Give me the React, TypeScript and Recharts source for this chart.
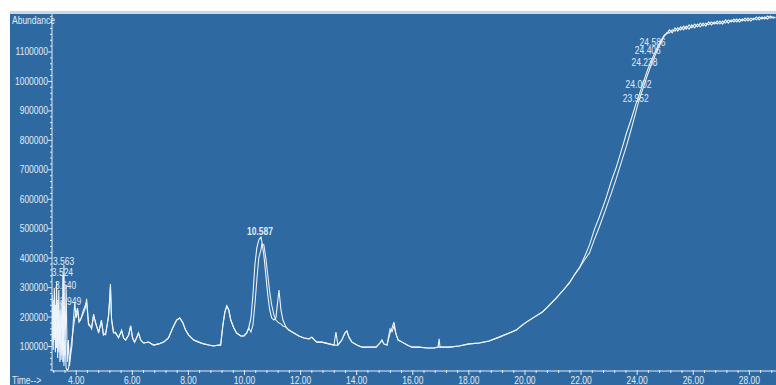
import React from 'react';
import { ComposedChart, Line, XAxis, YAxis, ReferenceDot } from 'recharts';

// retention time (min) and abundance of the two overlaid runs
const retentionTime = [
  3.10, 3.14, 3.18, 3.22, 3.26, 3.30, 3.34, 3.38, 3.42, 3.46, 3.50, 3.524, 3.545, 3.563, 3.60, 3.64, 3.68, 3.72, 3.76, 3.80, 3.85, 3.90, 3.949, 4.00, 4.05, 4.10,
  4.15, 4.26, 4.33, 4.37, 4.44, 4.55, 4.62, 4.69, 4.80, 4.90,
  4.97, 5.05, 5.15, 5.19, 5.22, 5.26, 5.33, 5.40, 5.51, 5.62,
  5.69, 5.76, 5.87, 5.94, 6.01, 6.08, 6.15, 6.22, 6.30, 6.40,
  6.58, 6.76, 6.94, 7.12, 7.29, 7.44, 7.58, 7.69, 7.79, 7.90,
  8.01, 8.19, 8.37, 8.55, 8.73, 8.90, 9.08, 9.15, 9.23, 9.30,
  9.37, 9.44, 9.51, 9.62, 9.72, 9.87, 9.98, 10.08, 10.15,
  10.23, 10.30, 10.37, 10.44, 10.51, 10.587, 10.62, 10.69, 10.76, 10.83, 10.90, 10.97, 11.05, 11.12, 11.19, 11.23, 11.30, 11.37,
  11.48, 11.58, 11.76, 11.94, 12.12, 12.30, 12.40, 12.50, 12.58, 12.76,
  13.01, 13.19, 13.26, 13.33, 13.47, 13.58, 13.65, 13.72, 13.83, 14.01,
  14.19, 14.44, 14.69, 14.83, 14.90, 14.97, 15.08, 15.19, 15.26, 15.33,
  15.40, 15.48, 15.62, 15.80, 15.97, 16.22, 16.51, 16.76, 16.90, 16.94,
  16.97, 17.30, 17.65, 18.01, 18.37, 18.72, 19.08, 19.44, 19.69, 19.87,
  20.05, 20.33, 20.62, 20.87, 21.12, 21.37, 21.58, 21.76, 21.94,
  22.12, 22.30, 22.47, 22.65, 22.87, 23.08, 23.26, 23.44, 23.62, 23.80, 23.952, 24.01, 24.12, 24.238, 24.37, 24.51, 24.66, 24.80, 24.97,
  25.05, 25.15, 25.25, 25.35, 25.45, 25.55, 25.65, 25.75, 25.85, 25.95,
  26.05, 26.15, 26.25, 26.35, 26.45, 26.55, 26.65, 26.75, 26.85, 26.95,
  27.05, 27.15, 27.25, 27.35, 27.45, 27.55, 27.65, 27.75, 27.85, 27.95,
  28.05, 28.15, 28.25, 28.35, 28.45, 28.55, 28.65, 28.75, 28.85, 28.93,
];

const runA = [
  156000, 275000, 88000, 299000, 81000, 319000, 61000, 292000, 48000, 258000, 71000, 343000, 88000, 377000, 71000, 309000, 48000, 122000, 34000, 71000, 105000, 190000, 248000, 197000, 224000, 183000,
  190000, 224000, 241000, 251000, 173000, 166000, 204000, 183000, 146000, 190000,
  139000, 146000, 197000, 258000, 312000, 190000, 146000, 149000, 129000, 156000,
  129000, 122000, 139000, 170000, 129000, 115000, 129000, 146000, 122000, 112000,
  115000, 105000, 109000, 115000, 129000, 163000, 190000, 197000, 183000, 156000,
  139000, 122000, 115000, 109000, 105000, 102000, 105000, 105000, 173000, 217000,
  238000, 224000, 190000, 163000, 146000, 136000, 136000, 146000, 163000,
  197000, 275000, 377000, 435000, 462000, 472000, 455000, 411000, 343000, 275000, 224000, 197000, 190000, 197000, 258000, 292000, 224000, 190000,
  166000, 156000, 146000, 136000, 129000, 126000, 132000, 122000, 115000, 115000,
  109000, 105000, 149000, 105000, 122000, 146000, 153000, 132000, 115000, 105000,
  98000, 98000, 98000, 112000, 122000, 109000, 105000, 146000, 163000, 183000,
  143000, 122000, 115000, 105000, 98000, 98000, 95000, 95000, 98000, 126000,
  98000, 98000, 102000, 109000, 112000, 119000, 132000, 146000, 156000, 170000,
  183000, 200000, 217000, 241000, 265000, 292000, 316000, 343000, 367000,
  404000, 445000, 496000, 540000, 598000, 662000, 710000, 767000, 825000, 876000, 923000, 937000, 968000, 1002000, 1039000, 1073000, 1103000, 1131000, 1158000,
  1161000, 1175000, 1165000, 1182000, 1171000, 1185000, 1175000, 1188000, 1178000, 1192000,
  1182000, 1195000, 1185000, 1198000, 1188000, 1202000, 1192000, 1202000, 1195000, 1205000,
  1195000, 1209000, 1198000, 1209000, 1202000, 1212000, 1202000, 1212000, 1205000, 1215000,
  1205000, 1215000, 1209000, 1219000, 1212000, 1219000, 1212000, 1222000, 1215000, 1219000,
];

const runB = [
  224000, 105000, 258000, 122000, 241000, 95000, 258000, 81000, 224000, 54000, 156000, 48000, 207000, 34000, 122000, 27000, 20000, 24000, 48000, 88000, 129000, 163000, 197000, 217000, 231000, 190000,
  190000, 215000, 232000, 262000, 180000, 160000, 210000, 178000, 150000, 185000,
  142000, 140000, 205000, 250000, 300000, 195000, 150000, 145000, 132000, 152000,
  129000, 122000, 139000, 170000, 129000, 115000, 129000, 146000, 122000, 112000,
  115000, 105000, 109000, 115000, 129000, 163000, 190000, 197000, 183000, 156000,
  139000, 122000, 115000, 109000, 105000, 102000, 105000, 105000, 173000, 217000,
  238000, 224000, 190000, 163000, 146000, 136000, 136000, 146000, 163000,
  149000, 173000, 241000, 326000, 401000, 428000, 448000, 445000, 401000, 343000, 285000, 241000, 207000, 190000, 183000, 180000, 177000, 170000,
  166000, 156000, 146000, 136000, 129000, 126000, 132000, 122000, 115000, 115000,
  109000, 105000, 105000, 105000, 122000, 146000, 153000, 132000, 115000, 105000,
  98000, 98000, 98000, 112000, 122000, 109000, 105000, 160000, 150000, 170000,
  143000, 122000, 115000, 105000, 98000, 98000, 95000, 95000, 98000, 98000,
  98000, 98000, 102000, 109000, 112000, 119000, 132000, 146000, 156000, 170000,
  183000, 200000, 217000, 241000, 265000, 292000, 316000, 343000, 367000,
  394000, 418000, 462000, 506000, 564000, 621000, 672000, 727000, 781000, 842000, 896000, 917000, 951000, 985000, 1022000, 1059000, 1093000, 1124000, 1154000,
  1165000, 1165000, 1175000, 1171000, 1182000, 1175000, 1188000, 1178000, 1192000, 1182000,
  1195000, 1185000, 1198000, 1188000, 1198000, 1192000, 1202000, 1195000, 1205000, 1195000,
  1205000, 1198000, 1209000, 1202000, 1212000, 1202000, 1212000, 1205000, 1215000, 1205000,
  1215000, 1209000, 1219000, 1209000, 1219000, 1212000, 1222000, 1215000, 1219000, 1215000,
];

// peak annotations: text and where it sits (time, abundance)
const peakText = ['3.563', '3.524', '3.640', '3.949', '10.587', '24.586', '24.406', '24.238', '24.002', '23.952'];
const peakTime = [3.55, 3.51, 3.62, 3.80, 10.55, 24.55, 24.38, 24.26, 24.05, 23.95];
const peakAbund = [377000, 340000, 295000, 241000, 479000, 1120000, 1093000, 1052000, 978000, 930000];

const xMajorTicks = [4, 6, 8, 10, 12, 14, 16, 18, 20, 22, 24, 26, 28];
const yMajorTicks = [100000, 200000, 300000, 400000, 500000, 600000, 700000, 800000, 900000, 1000000, 1100000];

const xAllTicks = Array.from({ length: 65 }, (_, i) => +(3.2 + i * 0.4).toFixed(1));
const yAllTicks = Array.from({ length: 61 }, (_, i) => 20000 + i * 20000);

const data = retentionTime.map((t, i) => ({ t, a: runA[i], b: runB[i] }));
const peaks = peakText.map((text, i) => ({ text, t: peakTime[i], v: peakAbund[i] }));

const BG = '#2e6aa1';
const INK = '#e2ebf6';
const FONT = "'Liberation Sans', Arial, sans-serif";
const SQUEEZE = 0.85; // the original uses a narrow font

const NarrowText = ({ x, y, anchor, bold, children }: any) => (
  <text
    transform={`translate(${x},${y}) scale(${SQUEEZE},1)`}
    textAnchor={anchor}
    fill={INK}
    fontSize={10}
    fontWeight={bold ? 'bold' : 'normal'}
    fontFamily={FONT}
  >
    {children}
  </text>
);

const YTick = (props: any) => {
  const { x, y, payload } = props;
  const major = yMajorTicks.includes(payload.value);
  return (
    <g>
      <line x1={x - (major ? 4 : 2)} x2={x} y1={y} y2={y} stroke={INK} strokeWidth={1} />
      {major && <NarrowText x={x - 4} y={y + 3.5} anchor="end">{payload.value}</NarrowText>}
    </g>
  );
};

const XTick = (props: any) => {
  const { x, y, payload } = props;
  const major = xMajorTicks.includes(payload.value);
  return (
    <g>
      <line x1={x} x2={x} y1={y - 1} y2={y + (major ? 4 : 2)} stroke={INK} strokeWidth={1} />
      {major && <NarrowText x={x} y={y + 13} anchor="middle">{payload.value.toFixed(2)}</NarrowText>}
    </g>
  );
};

const cornerLabel: React.CSSProperties = {
  position: 'absolute',
  left: 12,
  color: INK,
  fontSize: 10,
  fontFamily: FONT,
  lineHeight: '12px',
  transform: `scaleX(${SQUEEZE})`,
  transformOrigin: 'left center',
  whiteSpace: 'nowrap',
};

export default function App() {
  return (
    <div style={{ position: 'absolute', left: 0, top: 0, width: 776, height: 385, background: '#ffffff', overflow: 'hidden' }}>
      <div style={{ position: 'absolute', left: 10, top: 11, width: 766, height: 3, background: '#cbd8e6' }} />
      <div style={{ position: 'absolute', left: 10, top: 14, width: 766, height: 371, background: BG }} />
      <div style={{ ...cornerLabel, top: 15 }}>Abundance</div>
      <div style={{ ...cornerLabel, top: 375 }}>Time--&gt;</div>
      <div style={{ position: 'absolute', left: 0, top: 0 }}>
        <ComposedChart width={776} height={385} data={data} margin={{ top: 14, right: 0, bottom: 0, left: 0 }}>
          <XAxis
            dataKey="t"
            type="number"
            domain={[3.137, 28.95]}
            allowDataOverflow
            ticks={xAllTicks}
            interval={0}
            height={14}
            tickSize={0}
            tickMargin={0}
            tickLine={false}
            axisLine={{ stroke: INK }}
            tick={(p: any) => <XTick {...p} />}
          />
          <YAxis
            type="number"
            domain={[17000, 1229000]}
            allowDataOverflow
            ticks={yAllTicks}
            interval={0}
            width={52}
            tickSize={0}
            tickMargin={0}
            tickLine={false}
            axisLine={{ stroke: INK }}
            tick={(p: any) => <YTick {...p} />}
          />
          <Line dataKey="b" type="linear" stroke="#e6eef8" strokeWidth={1.1} dot={false} isAnimationActive={false} />
          <Line dataKey="a" type="linear" stroke="#eef4fb" strokeWidth={1.1} dot={false} isAnimationActive={false} />
          {peaks.map((p) => (
            <ReferenceDot
              key={p.text}
              x={p.t}
              y={p.v}
              r={0}
              ifOverflow="visible"
              shape={(s: any) => (
                <NarrowText x={s.cx} y={s.cy} anchor="middle" bold={p.text === '10.587'}>
                  {p.text}
                </NarrowText>
              )}
            />
          ))}
        </ComposedChart>
      </div>
    </div>
  );
}
